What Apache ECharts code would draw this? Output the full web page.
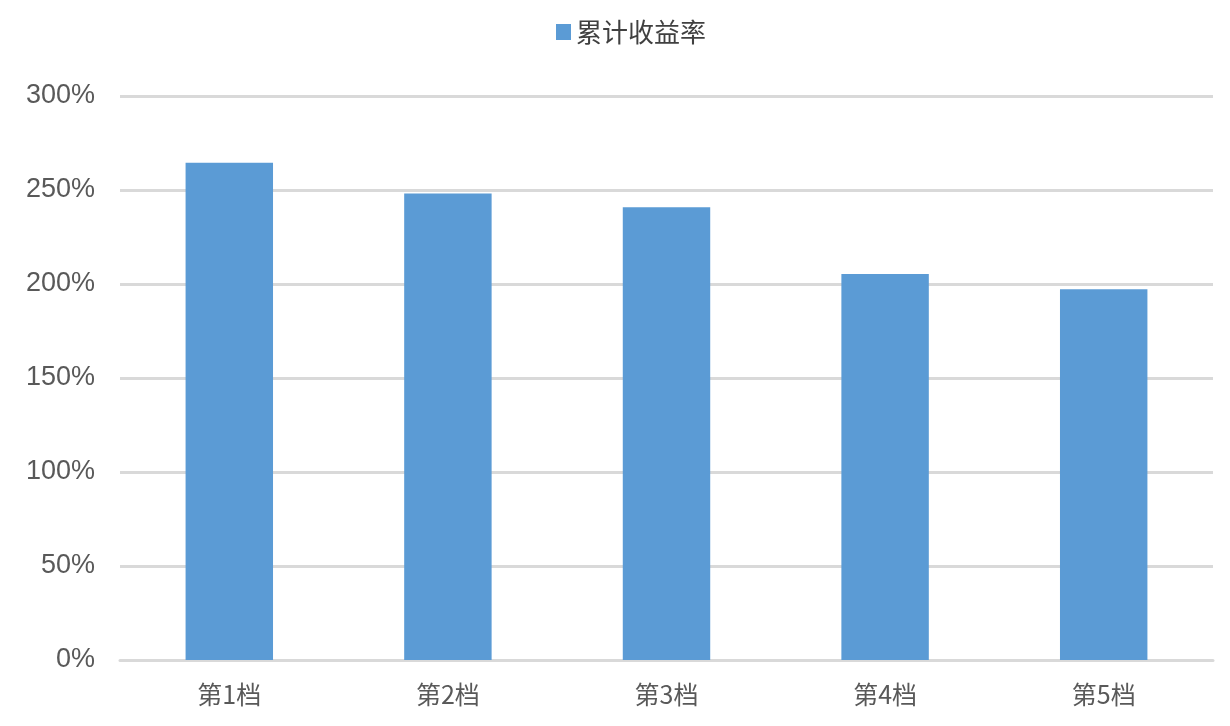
<!DOCTYPE html>
<html>
<head>
<meta charset="utf-8">
<script src="https://cdn.jsdelivr.net/npm/echarts@6/dist/echarts.min.js"></script>
<style>html,body{margin:0;padding:0;background:#fff;}#c{width:1230px;height:726px;}</style>
</head>
<body>
<div id="c"></div>
<script>
const categories = ['第1档', '第2档', '第3档', '第4档', '第5档'];
const seriesName = '累计收益率';
const values = [264.5, 248.2, 240.8, 205.3, 197.2];
const yTicks = [0, 50, 100, 150, 200, 250, 300];

const chart = echarts.init(document.getElementById('c'));
chart.setOption({
  animation: false,
  backgroundColor: '#fff',
  legend: {
    data: [seriesName],
    left: 551,
    top: 14,
    itemWidth: 15,
    itemHeight: 16,
    itemGap: 8,
    icon: 'rect',
    textStyle: { fontSize: 26, color: '#404040', fontFamily: 'Noto Sans CJK SC' }
  },
  grid: { left: 120, right: 17, top: 96, bottom: 66, containLabel: false },
  xAxis: {
    type: 'category',
    data: categories,
    axisLine: { show: true, lineStyle: { color: '#d9d9d9', width: 3 } },
    axisTick: { show: false },
    axisLabel: { fontSize: 25, color: '#595959', margin: 22, fontFamily: 'Noto Sans CJK SC, Liberation Sans' }
  },
  yAxis: {
    type: 'value',
    min: yTicks[0],
    max: yTicks[yTicks.length - 1],
    interval: 50,
    axisLine: { show: false },
    axisTick: { show: false },
    splitLine: { lineStyle: { color: '#d9d9d9', width: 3 } },
    axisLabel: { fontSize: 27, color: '#595959', margin: 25, fontFamily: 'Liberation Sans', formatter: v => v + '%' }
  },
  series: [{
    name: seriesName,
    type: 'bar',
    data: values,
    barWidth: '40%',
    itemStyle: { color: '#5b9bd5' }
  }]
});
</script>
</body>
</html>
